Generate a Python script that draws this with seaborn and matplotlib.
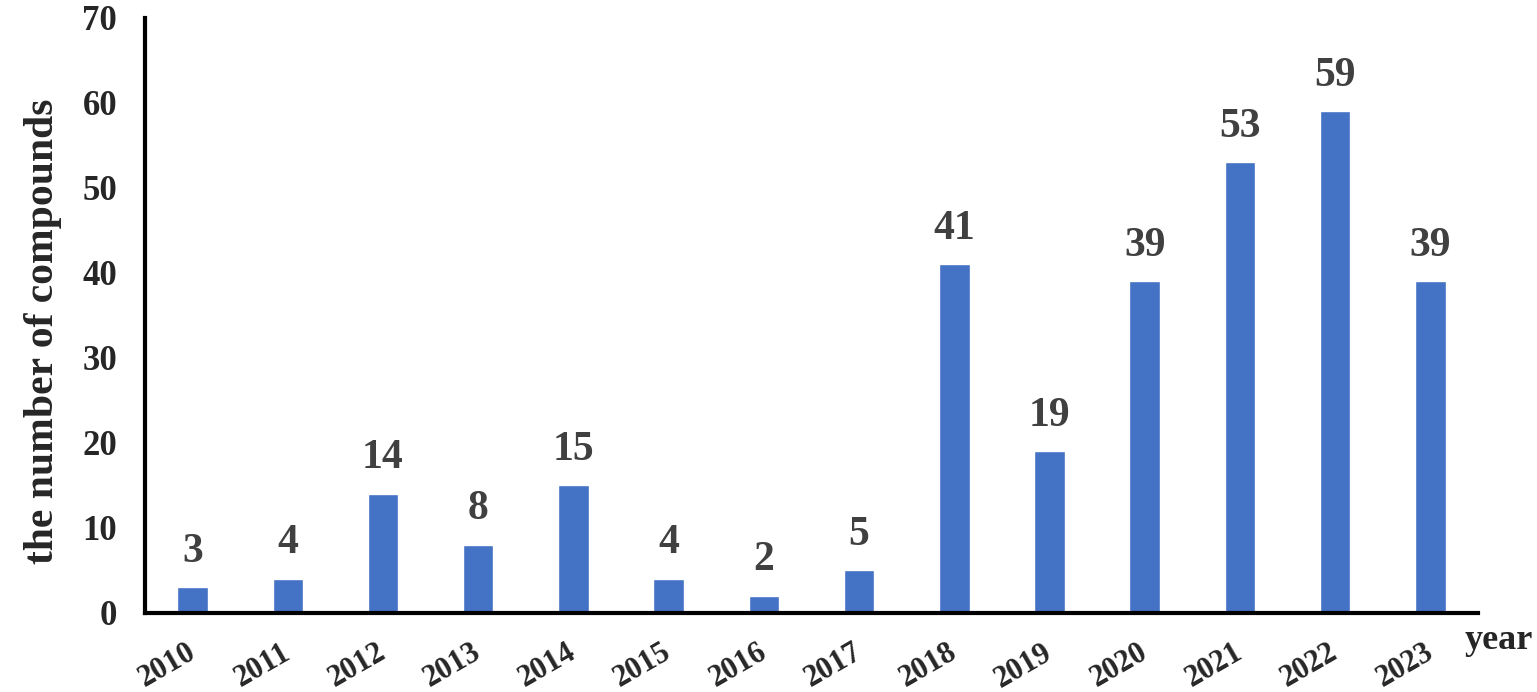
import matplotlib
matplotlib.use("Agg")
import matplotlib.pyplot as plt
import seaborn as sns
import pandas as pd
import numpy as np

# data
years = ["2010", "2011", "2012", "2013", "2014", "2015", "2016",
         "2017", "2018", "2019", "2020", "2021", "2022", "2023"]
counts = [3, 4, 14, 8, 15, 4, 2, 5, 41, 19, 39, 53, 59, 39]
y_ticks = [0, 10, 20, 30, 40, 50, 60, 70]

df = pd.DataFrame({"year": years, "count": counts})

sns.set_style("white")
plt.rcParams["font.family"] = ["Liberation Serif", "DejaVu Serif"]
plt.rcParams["font.weight"] = "bold"

fig = plt.figure(figsize=(15.37, 6.92), dpi=100)
ax = fig.add_axes([0.0943, 0.1142, 0.8673, 0.8598])

sns.barplot(data=df, x="year", y="count", order=years, color="#4472C4",
            saturation=1, width=0.32, ax=ax)

# value labels
for i, v in enumerate(counts):
    ax.annotate(str(v), (i, v), xytext=(0, 12), textcoords="offset points",
                ha="center", va="bottom", fontsize=30, fontweight="bold",
                color="#404040")

ax.set_xlim(-0.5, len(years) - 0.5)
ax.set_ylim(0, 70)
ax.set_yticks(y_ticks)
ax.set_yticklabels([str(t) for t in y_ticks], fontsize=25, fontweight="bold")

# tick marks at category boundaries, labels at category centres
ax.set_xticks(np.arange(-0.5, len(years), 1.0))
ax.set_xticklabels([])
ax.set_xticks(np.arange(len(years)) - 0.07, minor=True)
ax.set_xticklabels(years, minor=True, rotation=30, ha="right",
                   rotation_mode="anchor", fontsize=22, fontweight="bold")
ax.tick_params(axis="x", which="minor", length=0, pad=18)
ax.tick_params(axis="x", which="major", length=10, width=3, direction="out")
ax.tick_params(axis="y", length=8, width=3, direction="out", pad=12)

ax.set_xlabel("")
ax.set_ylabel("the number of compounds", fontsize=30, fontweight="bold")
ax.yaxis.set_label_coords(-0.062, 0.474)

for s in ["top", "right"]:
    ax.spines[s].set_visible(False)
for s in ["left", "bottom"]:
    ax.spines[s].set_linewidth(3)
    ax.spines[s].set_color("black")

fig.text(0.953, 0.05, "year", fontsize=26, fontweight="bold", ha="left",
         va="bottom")

fig.savefig("out.png", dpi=100)
